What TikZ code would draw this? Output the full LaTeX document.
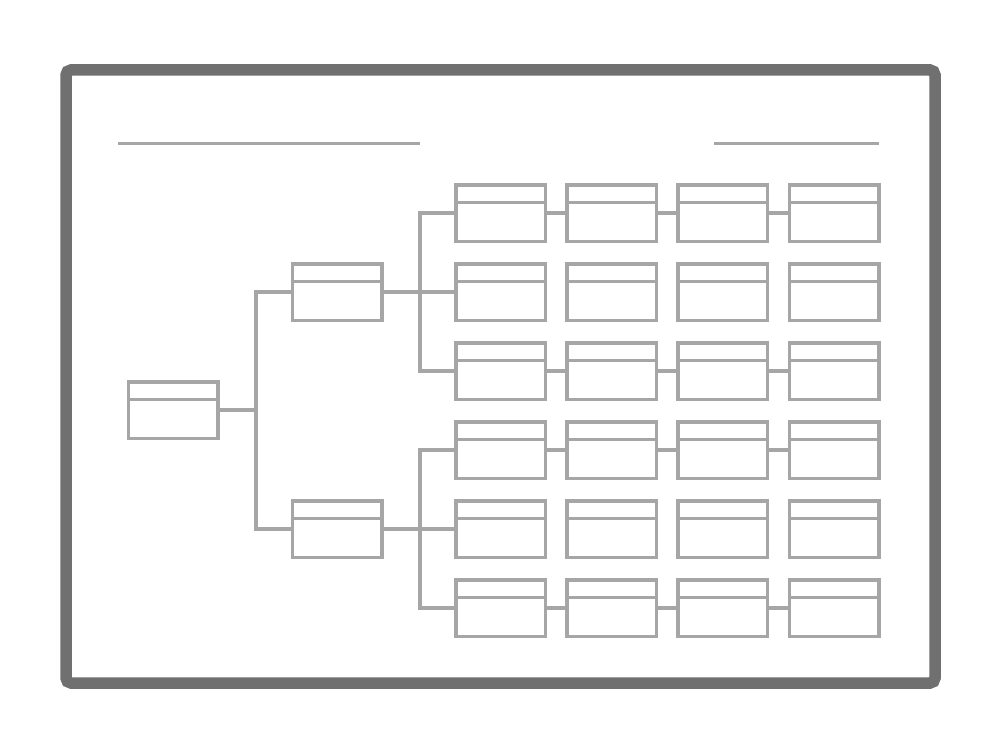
\documentclass[tikz,border=0pt]{standalone}
\usepackage{tikz}
\usetikzlibrary{positioning}
\definecolor{boxgray}{HTML}{A6A6A6}
\definecolor{framegray}{HTML}{707070}

\begin{document}
\begin{tikzpicture}[
  x=1pt, y=-1pt,
  card/.style={draw=boxgray, line width=3.5pt, minimum width=89.5pt,
               minimum height=56.5pt, inner sep=0pt, fill=white,
               path picture={\draw[boxgray, line width=3.5pt]
                 ([yshift=-17.5pt]path picture bounding box.north west) --
                 ([yshift=-17.5pt]path picture bounding box.north east);}},
  link/.style={draw=boxgray, line width=3.5pt},
  rule/.style={draw=boxgray, line width=3pt},
  frame/.style={draw=framegray, line width=11.5pt, rounded corners=5pt}
]
\useasboundingbox (0,0) rectangle (1000,754);
\draw[frame] (66,70) rectangle (935,683);

% title placeholders
\draw[rule] (118,144) -- (420,144);
\draw[rule] (714,144) -- (879,144);

\node[card] (root) at (173,410) {};
\node[card] (top) at (337,292) {};
\node[card] (bot) at (337,529) {};

\foreach \r/\y in {1/213,2/292,3/371,4/450,5/529,6/608}
  \foreach \c/\x in {1/500.5,2/611.5,3/722.5,4/834}
    \node[card] (r\r-\c) at (\x,\y) {};

\coordinate (fork) at (256,410);
\coordinate (forkA) at (420,292);
\coordinate (forkB) at (420,529);

\draw[link] (root.east) -- (fork);
\draw[link] (fork) |- (top.west);
\draw[link] (fork) |- (bot.west);

\draw[link] (top.east) -- (forkA);
\draw[link] (forkA) |- (r1-1.west);
\draw[link] (forkA) -- (r2-1.west);
\draw[link] (forkA) |- (r3-1.west);

\draw[link] (bot.east) -- (forkB);
\draw[link] (forkB) |- (r4-1.west);
\draw[link] (forkB) -- (r5-1.west);
\draw[link] (forkB) |- (r6-1.west);

\foreach \r in {1,3,4,6}
  \foreach \c/\n in {1/2,2/3,3/4}
    \draw[link] (r\r-\c.east) -- (r\r-\n.west);
\end{tikzpicture}
\end{document}
